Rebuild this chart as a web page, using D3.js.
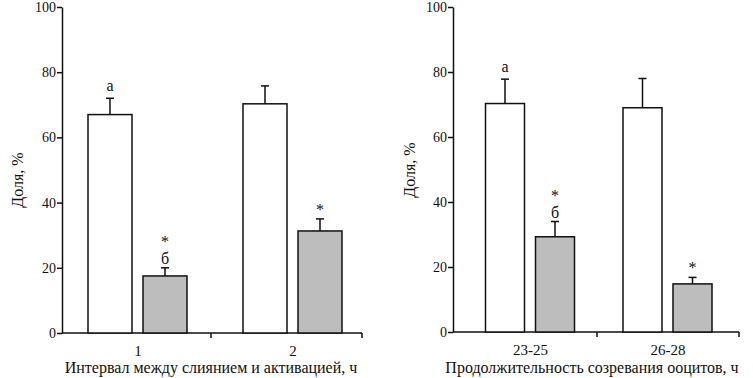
<!DOCTYPE html>
<html>
<head>
<meta charset="utf-8">
<script src="https://cdn.jsdelivr.net/npm/d3@7"></script>
<style>
  body { margin: 0; background: #fff; }
  .axis path, .axis line { stroke: #111; stroke-width: 1.5; }
</style>
</head>
<body>
<script>
var FONT = "Liberation Serif";

// left panel data
var cats1 = ["1", "2"];
var white1 = [67, 70.3];
var whiteErr1 = [5, 5.5];
var gray1 = [17.5, 31.3];
var grayErr1 = [2.5, 3.7];
var whiteMark1 = ["a", ""];
var grayMark1 = [["*", "б"], ["*"]];

// right panel data
var cats2 = ["23-25", "26-28"];
var white2 = [70.3, 69];
var whiteErr2 = [7.5, 9];
var gray2 = [29.3, 14.8];
var grayErr2 = [4.7, 2];
var whiteMark2 = ["a", ""];
var grayMark2 = [["*", "б"], ["*"]];

var yTicks = [0, 20, 40, 60, 80, 100];

var svg = d3.select("body").append("svg")
    .attr("width", 753)
    .attr("height", 378)
    .attr("font-family", FONT);

function panel(opt) {
  var g = svg.append("g").attr("transform", "translate(" + opt.left + ",0)");
  var w = opt.width;

  var y = d3.scaleLinear().domain([0, 100]).range([opt.bottom, 7]);
  var x = d3.scalePoint().domain(opt.cats).range(opt.centers);

  // y axis
  var ya = g.append("g").attr("class", "axis")
      .call(d3.axisLeft(y).tickValues(yTicks).tickSize(5).tickSizeOuter(0));
  ya.attr("font-family", FONT).attr("font-size", 14);
  ya.selectAll("text").attr("x", -6).attr("fill", "#111");

  // x axis
  var xa = g.append("g").attr("class", "axis")
      .attr("transform", "translate(0," + opt.bottom + ")")
      .call(d3.axisBottom(x).tickSize(0).tickSizeOuter(0));
  xa.attr("font-family", FONT).attr("font-size", 15);
  xa.select(".domain").attr("d", "M0,0H" + w);
  xa.selectAll("text").attr("dy", "1.3em").attr("fill", "#111");
  g.selectAll(".sep").data([opt.sep, w]).enter().append("line")
      .attr("x1", function(d) { return d; }).attr("x2", function(d) { return d; })
      .attr("y1", opt.bottom).attr("y2", opt.bottom + 5)
      .attr("stroke", "#111").attr("stroke-width", 1.5);

  var bw = opt.barW, gap = opt.gap;

  opt.cats.forEach(function(c, i) {
    var cx = x(c);
    var xs = [cx - gap / 2 - bw, cx + gap / 2];
    var vals = [opt.white[i], opt.gray[i]];
    var errs = [opt.whiteErr[i], opt.grayErr[i]];
    var fills = ["#ffffff", "#bdbdbd"];

    vals.forEach(function(v, k) {
      var mid = xs[k] + bw / 2;
      // error bar
      g.append("line")
          .attr("x1", mid).attr("x2", mid)
          .attr("y1", y(v)).attr("y2", y(v + errs[k]))
          .attr("stroke", "#111").attr("stroke-width", 1.5);
      g.append("line")
          .attr("x1", mid - 4).attr("x2", mid + 4)
          .attr("y1", y(v + errs[k])).attr("y2", y(v + errs[k]))
          .attr("stroke", "#111").attr("stroke-width", 1.5);
      g.append("rect")
          .attr("x", xs[k]).attr("y", y(v))
          .attr("width", bw).attr("height", y(0) - y(v))
          .attr("fill", fills[k]).attr("stroke", "#111").attr("stroke-width", 1.5);
    });

    // marks above bars
    if (opt.whiteMark[i]) {
      g.append("text")
          .attr("x", xs[0] + bw / 2).attr("y", y(opt.white[i] + opt.whiteErr[i]) - 7)
          .attr("text-anchor", "middle").attr("font-size", 16).attr("fill", "#111")
          .text(opt.whiteMark[i]);
    }
    var marks = opt.grayMark[i];
    var base = y(opt.gray[i] + opt.grayErr[i]) - 4;
    for (var m = marks.length - 1; m >= 0; m--) {
      g.append("text")
          .attr("x", xs[1] + bw / 2)
          .attr("y", base - (marks.length - 1 - m) * 17)
          .attr("text-anchor", "middle").attr("font-size", 16).attr("fill", "#111")
          .text(marks[m]);
    }
  });

  // axis titles
  g.append("text")
      .attr("transform", "translate(" + opt.yLabelX + "," + opt.yLabelY + ") rotate(-90)")
      .attr("text-anchor", "middle").attr("font-size", 16).attr("fill", "#111")
      .text("Доля, %");
  g.append("text")
      .attr("x", opt.titleX).attr("y", 373)
      .attr("text-anchor", "middle").attr("font-size", 16).attr("fill", "#111")
      .text(opt.title);
}

panel({
  left: 62, width: 300, bottom: 333, cats: cats1, centers: [75.5, 230.5], sep: 149,
  white: white1, whiteErr: whiteErr1, gray: gray1, grayErr: grayErr1,
  whiteMark: whiteMark1, grayMark: grayMark1,
  barW: 44, gap: 11,
  yLabelX: -39, yLabelY: 180, titleX: 149,
  title: "Интервал между слиянием и активацией, ч"
});

panel({
  left: 453, width: 286, bottom: 332, cats: cats2, centers: [77, 214.5], sep: 144,
  white: white2, whiteErr: whiteErr2, gray: gray2, grayErr: grayErr2,
  whiteMark: whiteMark2, grayMark: grayMark2,
  barW: 39, gap: 11,
  yLabelX: -38, yLabelY: 170, titleX: 139,
  title: "Продолжительность созревания ооцитов, ч"
});
</script>
</body>
</html>
